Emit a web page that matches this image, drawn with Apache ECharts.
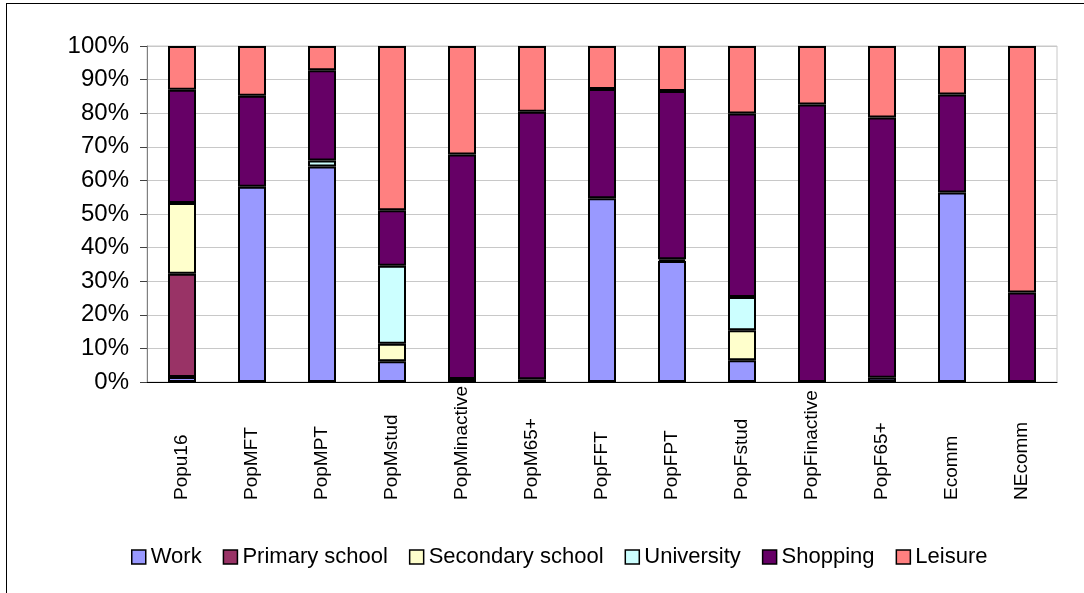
<!DOCTYPE html>
<html>
<head>
<meta charset="utf-8">
<script src="https://cdn.jsdelivr.net/npm/echarts@6/dist/echarts.min.js"></script>
<style>
  html, body { margin: 0; padding: 0; background: #fff; overflow: hidden; }
  #chart { position: absolute; left: 0; top: 0; width: 1084px; height: 593px; }
  #frame { position: absolute; left: 6px; top: 3px; width: 2000px; height: 2000px; border: 1px solid #000; pointer-events: none; }
</style>
</head>
<body>
<div id="chart"></div>
<div id="frame"></div>
<script>
// categories and shares (percent) per activity
const categories = ['Popu16', 'PopMFT', 'PopMPT', 'PopMstud', 'PopMinactive', 'PopM65+',
  'PopFFT', 'PopFPT', 'PopFstud', 'PopFinactive', 'PopF65+', 'Ecomm', 'NEcomm']
const work       = [1.5, 58.1, 64.1, 6.2, 0.9, 0.8, 54.7, 36.0, 6.5, 0, 1.3, 56.4, 0]
const primary    = [30.7, 0, 0, 0, 0, 0, 0, 0, 0, 0, 0, 0, 0]
const secondary  = [21.1, 0, 0, 5.2, 0, 0, 0, 0, 8.9, 0, 0, 0, 0]
const university = [0, 0, 1.8, 23.2, 0, 0, 0, 0.5, 9.9, 0, 0, 0, 0]
const shopping   = [33.7, 27.1, 26.9, 16.5, 66.8, 79.6, 32.5, 50.1, 54.6, 82.6, 77.4, 29.2, 26.6]
const leisure    = [13.0, 14.8, 7.2, 48.9, 32.3, 19.6, 12.8, 13.4, 20.1, 17.4, 21.3, 14.4, 73.4]

const seriesDefs = [
  { name: 'Work', data: work, color: '#9999FF' },
  { name: 'Primary school', data: primary, color: '#993366' },
  { name: 'Secondary school', data: secondary, color: '#FFFFCC' },
  { name: 'University', data: university, color: '#CCFFFF' },
  { name: 'Shopping', data: shopping, color: '#660066' },
  { name: 'Leisure', data: leisure, color: '#FF8080' },
]

const font = "'Liberation Sans', Arial, sans-serif"
const chart = echarts.init(document.getElementById('chart'))

chart.setOption({
  animation: false,
  textStyle: { fontFamily: font, color: '#000' },
  grid: {
    left: 147, right: 27, top: 46, bottom: 211,
    show: true, borderColor: '#C8C8C8', borderWidth: 1,
  },
  legend: {
    left: 126, top: 541,
    icon: 'rect',
    itemWidth: 14, itemHeight: 14, itemGap: 21,
    textStyle: { fontSize: 22, fontFamily: font, color: '#000' },
    data: seriesDefs.map(s => ({ name: s.name, itemStyle: { borderColor: '#000', borderWidth: 1.5 } })),
  },
  xAxis: {
    type: 'category',
    data: categories,
    axisLine: { lineStyle: { color: '#000', width: 1 } },
    axisTick: { length: 6, lineStyle: { color: '#000' } },
    axisLabel: {
      rotate: 90, align: 'left', margin: 118,
      fontSize: 19, fontFamily: font, color: '#000', interval: 0,
    },
  },
  yAxis: {
    type: 'value',
    min: 0, max: 100, interval: 10,
    axisLine: { show: true, lineStyle: { color: '#808080', width: 1 } },
    axisTick: { show: true, length: 7, lineStyle: { color: '#404040' } },
    axisLabel: { formatter: '{value}%', fontSize: 24, fontFamily: font, color: '#000', margin: 18 },
    splitLine: { lineStyle: { color: '#C8C8C8', width: 1 } },
  },
  series: seriesDefs.map(s => ({
    name: s.name,
    type: 'bar',
    stack: 'total',
    barWidth: 28,
    data: s.data.map(v => (v === 0 ? '-' : v)),
    itemStyle: { color: s.color, borderColor: '#000', borderWidth: 2 },
  })),
})
</script>
</body>
</html>
